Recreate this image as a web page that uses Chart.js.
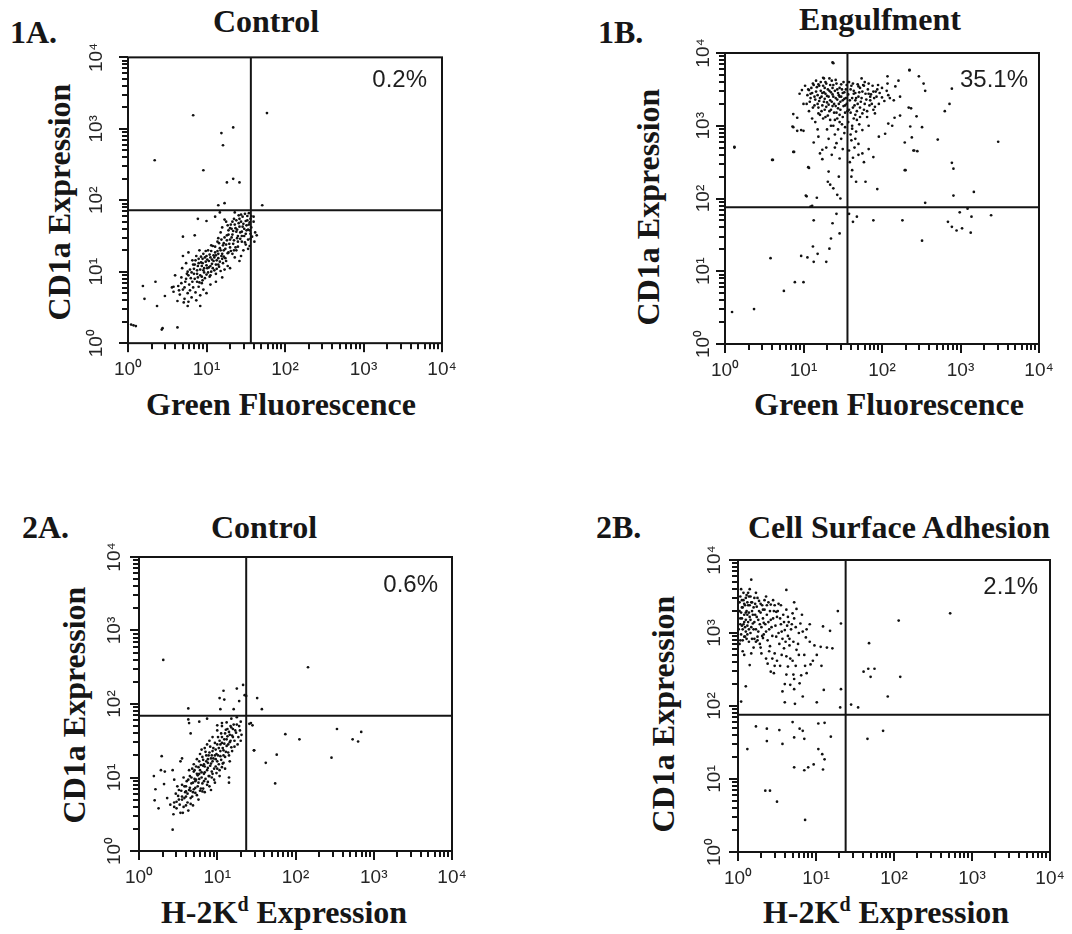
<!DOCTYPE html>
<html>
<head>
<meta charset="utf-8">
<script src="https://cdn.jsdelivr.net/npm/chart.js@4.4.0/dist/chart.umd.min.js"></script>
<style>
  body { margin: 0; background: #fff; width: 1072px; height: 934px; position: relative; overflow: hidden; }
  canvas { position: absolute; }
  .lab { position: absolute; white-space: nowrap; color: #161616; font-family: "Liberation Serif", serif; font-weight: bold; font-size: 32px; line-height: 32px; }
  .ctr { transform: translateX(-50%); }
  .rot { transform: translate(-50%, -50%) rotate(-90deg); }
  .pct { position: absolute; white-space: nowrap; color: #1e1e1e; font-family: "Liberation Sans", sans-serif; font-size: 24px; line-height: 24px; }
  sup { font-size: 20px; line-height: 0; vertical-align: 12px; }
</style>
</head>
<body>

<div class="lab" style="left:10px;top:16px">1A.</div>
<div class="lab ctr" style="left:266px;top:5px">Control</div>
<div class="lab" style="left:598px;top:16px">1B.</div>
<div class="lab ctr" style="left:880px;top:3px">Engulfment</div>
<div class="lab" style="left:22px;top:511px">2A.</div>
<div class="lab ctr" style="left:264px;top:511px">Control</div>
<div class="lab" style="left:596px;top:511px">2B.</div>
<div class="lab ctr" style="left:899px;top:511px">Cell Surface Adhesion</div>

<div class="lab rot" style="left:59px;top:202px">CD1a Expression</div>
<div class="lab rot" style="left:648px;top:207px">CD1a Expression</div>
<div class="lab rot" style="left:74px;top:705px">CD1a Expression</div>
<div class="lab rot" style="left:663px;top:714px">CD1a Expression</div>

<div class="lab ctr" style="left:281px;top:388px">Green Fluorescence</div>
<div class="lab ctr" style="left:889px;top:388px">Green Fluorescence</div>
<div class="lab ctr" style="left:284px;top:896px">H-2K<sup>d</sup> Expression</div>
<div class="lab ctr" style="left:886px;top:896px">H-2K<sup>d</sup> Expression</div>

<canvas id="c1A" width="382" height="349" style="left:78px;top:39px"></canvas>
<canvas id="c1B" width="382" height="350" style="left:675px;top:39px"></canvas>
<canvas id="c2A" width="381" height="353" style="left:89px;top:543px"></canvas>
<canvas id="c2B" width="380" height="351" style="left:688px;top:546px"></canvas>

<div class="pct" id="q1A" style="right:645px;top:67px"></div>
<div class="pct" id="q1B" style="right:44px;top:67px"></div>
<div class="pct" id="q2A" style="right:634px;top:572px"></div>
<div class="pct" id="q2B" style="right:34px;top:574px"></div>

<script>
// events as log10 intensities [x channel, CD1a]
const cells1A = [
  [0.04,0.26],[0.07,0.25],[0.10,0.24],[0.43,0.19],[0.44,0.21],[0.63,0.22],[0.19,0.80],[0.21,0.62],
  [0.35,0.86],[0.37,0.52],[0.47,0.66],[0.56,0.78],[0.58,0.79],[0.63,0.59],[0.76,0.52],[0.92,0.52],
  [0.60,0.95],[0.58,0.72],
  [0.64,0.80],[0.66,0.68],[0.68,0.92],[0.70,0.75],[0.72,0.62],[0.73,0.86],[0.75,0.97],[0.76,0.70],
  [0.78,0.82],[0.80,0.91],[0.81,0.64],[0.83,0.78],[0.84,0.97],[0.86,0.71],[0.88,0.86],[0.90,0.79],
  [0.92,0.67],[0.94,0.84],[0.96,0.75],[0.69,1.05],[0.74,1.12],[0.79,1.03],[0.82,1.16],[0.71,0.57],
  [0.77,0.58],[0.87,0.60],[0.70,1.22],[0.77,1.27],[1.00,0.70],[1.05,0.82],[1.12,0.86],[1.20,0.92],
  [0.85,1.10],[0.88,1.02],[0.90,1.18],[0.92,0.95],[0.94,1.08],[0.96,1.25],[0.97,0.99],[0.99,1.14],
  [1.01,1.05],[1.02,1.30],[1.04,0.93],[1.05,1.20],[1.07,1.11],[1.08,1.36],[1.10,1.02],[1.11,1.27],
  [1.13,1.16],[1.14,1.42],[1.16,1.07],[1.17,1.33],[1.19,1.22],[1.21,1.12],[1.22,1.30],[1.24,1.19],
  [1.25,1.38],[1.27,1.08],[1.28,1.27],[1.30,1.34],[0.87,1.22],[0.91,1.30],[0.95,0.88],[0.98,1.20],
  [1.00,0.96],[1.03,1.15],[1.06,1.00],[1.09,1.23],[1.12,0.97],[1.15,1.25],[1.18,1.01],[1.20,1.18],
  [1.23,1.03],[0.93,1.13],[0.89,0.92],[1.00,1.22],[1.06,1.29],[1.12,1.10],[1.03,1.06],[0.97,1.05],
  [1.09,1.15],[1.15,1.19],[1.30,1.05],[1.36,1.20],[1.42,1.15],[1.33,1.25],[1.38,1.30],[1.44,1.22],
  [1.20,1.62],[1.25,1.70],[1.28,1.58],[1.31,1.66],[1.33,1.52],[1.35,1.74],[1.37,1.61],[1.39,1.47],
  [1.41,1.68],[1.43,1.55],[1.45,1.42],[1.46,1.63],[1.48,1.50],[1.50,1.71],[1.51,1.58],[1.53,1.45],
  [1.54,1.66],[1.55,1.36],[1.56,1.53],[1.57,1.62],[1.52,1.78],[1.44,1.80],[1.36,1.83],[1.30,1.45],
  [1.26,1.51],[1.22,1.40],[1.18,1.55],[1.15,1.47],[1.34,1.39],[1.40,1.35],[1.47,1.30],[1.42,1.74],
  [1.49,1.41],[1.38,1.56],[1.32,1.60],[1.27,1.65],[1.23,1.73],[1.56,1.74],[1.58,1.49],[1.53,1.32],
  [1.60,1.70],[1.62,1.55],[1.61,1.42],[1.64,1.51],[1.60,1.77],
  [0.72,0.78],[0.74,0.90],[0.77,0.95],[0.79,0.74],[0.81,0.99],[0.82,0.86],[0.84,1.04],[0.85,0.90],
  [0.86,1.16],[0.88,0.97],[0.89,1.08],[0.91,0.85],[0.92,1.03],[0.93,1.21],[0.94,0.93],[0.95,1.12],
  [0.96,1.02],[0.98,0.91],[0.99,1.29],[1.00,1.09],[1.01,1.17],[1.02,0.99],[1.04,1.24],[1.05,1.08],
  [1.06,1.37],[1.07,1.17],[1.08,1.05],[1.10,1.20],[1.11,1.35],[1.12,1.23],[1.13,1.04],[1.14,1.29],
  [1.16,1.40],[1.17,1.14],[1.18,1.30],[1.19,1.45],[1.20,1.25],[1.21,1.37],[1.22,1.21],[1.23,1.48],
  [1.24,1.32],[1.26,1.44],[1.27,1.26],[1.28,1.52],[1.29,1.39],[1.30,1.61],[1.31,1.29],[1.32,1.48],
  [1.33,1.70],[1.34,1.57],[1.35,1.44],[1.36,1.66],[1.37,1.34],[1.38,1.72],[1.39,1.59],[1.40,1.50],
  [1.41,1.79],[1.42,1.63],[1.43,1.46],[1.44,1.70],[1.45,1.56],[1.46,1.77],[1.47,1.67],[1.48,1.60],
  [1.49,1.81],[1.50,1.53],[1.51,1.65],[1.52,1.72],[1.53,1.59],[1.54,1.82],[1.55,1.69],[1.56,1.46],
  [1.57,1.78],[1.55,1.58],[1.50,1.38],[1.45,1.50],[1.40,1.42],[1.35,1.30],[1.25,1.15],[1.15,1.10],
  [1.05,0.95],[0.95,1.18],[0.90,1.12],[0.83,1.10],[0.76,1.00],[0.68,0.84],[0.65,0.74],
  [0.70,1.49],[0.85,1.51],[0.89,1.74],[1.00,1.71],[1.11,1.77],[1.17,1.83],[1.23,1.96],[1.15,1.93],
  [1.71,1.93],[0.83,3.19],[1.34,3.02],[1.19,2.94],[1.21,2.77],[0.34,2.56],[0.96,2.42],[1.26,2.25],
  [1.34,2.30],[1.42,2.25],[1.77,3.22]
];

const cells1B = [
  [1.05,3.42],[1.08,3.33],[1.10,3.52],[1.12,3.25],[1.14,3.40],[1.16,3.47],[1.18,3.30],[1.20,3.55],
  [1.21,3.38],[1.23,3.20],[1.24,3.45],[1.26,3.33],[1.27,3.52],[1.29,3.26],[1.30,3.41],[1.31,3.14],
  [1.33,3.48],[1.34,3.35],[1.35,3.22],[1.37,3.43],[1.38,3.56],[1.39,3.30],[1.40,3.08],[1.41,3.38],
  [1.43,3.50],[1.44,3.24],[1.45,3.42],[1.46,3.15],[1.47,3.33],[1.48,3.57],[1.49,3.02],[1.50,3.45],
  [1.51,3.27],[1.52,3.37],[1.53,3.18],[1.54,3.50],[1.55,3.30],[1.28,3.60],[1.36,3.62],[1.22,3.48],
  [1.32,3.29],[1.42,3.18],[1.25,3.10],[1.19,3.17],[1.15,3.05],[1.35,3.00],[1.44,2.95],[1.52,2.90],
  [1.48,2.82],[1.40,2.88],[1.30,2.95],[1.27,3.37],[1.37,3.27],[1.46,3.40],[1.13,3.56],[1.09,3.44],
  [1.02,3.55],[1.57,3.43],[1.58,3.22],[1.57,3.05],
  [1.04,3.30],[1.06,3.50],[1.07,3.20],[1.09,3.38],[1.11,3.45],[1.12,3.58],[1.14,3.28],[1.15,3.36],
  [1.17,3.53],[1.18,3.42],[1.19,3.25],[1.20,3.34],[1.22,3.60],[1.23,3.40],[1.24,3.28],[1.25,3.55],
  [1.26,3.46],[1.27,3.22],[1.28,3.44],[1.29,3.58],[1.30,3.32],[1.31,3.50],[1.32,3.40],[1.33,3.20],
  [1.34,3.56],[1.35,3.46],[1.36,3.33],[1.37,3.52],[1.38,3.40],[1.39,3.18],[1.40,3.48],[1.41,3.27],
  [1.42,3.58],[1.43,3.36],[1.44,3.45],[1.45,3.30],[1.46,3.52],[1.47,3.22],[1.48,3.40],[1.49,3.50],
  [1.50,3.35],[1.51,3.60],[1.52,3.46],[1.53,3.28],[1.54,3.38],[1.55,3.56],[1.56,3.20],[1.21,3.15],
  [1.28,3.12],[1.34,3.08],[1.43,3.10],[1.50,3.12],[1.38,3.00],[1.46,3.05],[1.53,2.98],[1.32,2.82],
  [1.42,2.76],[1.50,2.68],[1.36,2.60],[1.46,2.55],[1.29,2.70],[1.18,2.95],[1.11,3.10],[1.16,3.62],
  [1.33,3.65],[1.41,3.63],[1.25,3.66],
  [1.60,3.50],[1.62,3.38],[1.63,3.58],[1.65,3.28],[1.66,3.45],[1.68,3.20],[1.70,3.40],[1.72,3.52],
  [1.73,3.33],[1.75,3.47],[1.77,3.22],[1.78,3.60],[1.80,3.36],[1.82,3.50],[1.84,3.28],[1.86,3.43],
  [1.88,3.55],[1.90,3.38],[1.92,3.47],[1.95,3.56],[1.60,3.18],[1.64,3.10],[1.69,3.57],[1.74,3.65],
  [1.58,3.60],[1.59,3.35],[1.61,3.55],[1.63,3.25],[1.64,3.48],[1.66,3.15],[1.67,3.38],[1.69,3.30],
  [1.71,3.46],[1.72,3.12],[1.74,3.38],[1.76,3.56],[1.78,3.30],[1.79,3.44],[1.81,3.20],[1.83,3.58],
  [1.85,3.40],[1.87,3.30],[1.89,3.47],[1.91,3.26],[1.93,3.40],[1.97,3.45],[2.00,3.52],[2.03,3.34],
  [2.06,3.48],[2.10,3.38],[1.62,3.00],[1.67,2.92],[1.71,3.02],[1.60,2.88],[1.65,2.70],[1.59,2.50],
  [1.70,2.60],[1.61,2.30],
  [1.38,3.86],[2.35,3.76],[2.07,3.68],[2.21,3.62],[2.17,3.54],[2.07,3.58],[1.26,3.65],[1.19,3.57],
  [0.98,3.49],[0.95,3.44],[1.07,3.49],[1.00,3.30],[0.87,3.16],[0.92,3.11],[0.87,2.98],[0.92,2.93],
  [1.00,2.93],[0.87,2.64],[0.61,2.53],[0.12,2.70],[1.07,2.42],[1.19,2.85],[1.13,2.77],[1.21,2.62],
  [1.24,2.54],[1.32,2.37],[1.31,2.23],[1.34,2.19],[1.38,2.14],[1.45,2.30],[1.43,2.05],[1.47,2.00],
  [1.62,2.39],[1.67,2.23],[1.79,2.23],[1.63,2.56],[1.77,2.50],[1.89,2.57],[1.75,2.62],[1.94,2.13],
  [2.30,2.39],[2.29,2.77],[2.40,2.66],[2.45,2.65],[2.36,2.99],[2.34,3.25],[1.04,2.03],[1.17,2.01],
  [1.11,1.90],[1.24,2.67],[1.40,2.70],[1.70,2.75],[1.83,2.68],[1.96,2.85],[2.04,2.89],[2.13,3.00],
  [2.16,3.11],[2.23,3.14],[2.08,3.03],[1.89,3.22],[1.91,3.17],[1.96,3.30],[2.00,3.39],[2.08,3.42],
  [2.15,3.35],[2.23,3.40],[1.70,3.54],[1.77,3.55],[1.83,3.44],[1.94,3.50],[1.85,3.35],[1.64,3.44],
  [1.66,3.35],[1.72,3.25],[1.75,3.17],[1.81,3.12],[1.68,3.08],[1.62,2.96],[1.75,2.94],[1.83,3.00],
  [1.61,2.80],[1.66,2.82],[1.58,2.66],
  [2.35,3.77],[2.47,3.68],[2.53,3.58],[2.55,3.48],[2.89,3.51],[2.86,3.30],[2.80,3.20],[2.51,2.98],
  [2.44,3.13],[2.71,2.81],[3.48,2.78],[2.89,2.49],[2.91,2.41],[2.91,2.04],[3.17,2.09],[2.55,1.94],
  [2.38,2.84],[2.41,2.66],[2.29,2.39],[2.37,3.24],
  [2.84,1.68],[2.89,1.61],[2.95,1.56],[3.02,1.59],[2.99,1.81],[3.14,1.75],[3.13,1.53],[3.39,1.77],
  [3.09,1.86],[2.51,1.42],[2.26,1.70],[1.89,1.70],[1.68,1.75],[1.63,1.68],[1.58,1.79],[1.37,1.66],
  [1.42,1.79],[1.46,1.52],[1.35,1.45],[1.33,1.31],[1.13,1.70],[1.12,1.34],[1.18,1.24],[0.97,1.21],
  [1.05,1.19],[1.13,1.13],[1.29,1.13],[0.58,1.18],[0.89,0.85],[1.00,0.85],[0.75,0.73],[0.37,0.48],
  [0.09,0.44],[1.09,1.89],
  [0.12,2.71],[0.60,2.53],[0.88,2.64],[1.06,2.43],[1.03,2.04],[1.37,3.87],[0.86,2.99],[0.97,2.94]
];

const cells2A = [
  [0.45,0.66],[0.48,0.58],[0.50,0.75],[0.52,0.63],[0.54,0.82],[0.55,0.70],[0.57,0.60],[0.58,0.88],
  [0.60,0.74],[0.61,0.95],[0.62,0.66],[0.64,0.83],[0.65,1.02],[0.66,0.72],[0.67,0.92],[0.69,0.80],
  [0.70,1.08],[0.71,0.98],[0.72,0.86],[0.73,1.15],[0.74,0.76],[0.75,1.03],[0.76,0.93],[0.77,1.22],
  [0.78,1.10],[0.79,0.85],[0.80,1.00],[0.81,1.28],[0.82,1.16],[0.83,0.95],[0.84,1.07],[0.85,1.35],
  [0.86,1.22],[0.87,0.90],[0.88,1.13],[0.89,1.30],[0.90,1.02],[0.91,1.42],[0.92,1.19],[0.93,1.08],
  [0.94,1.36],[0.95,1.26],[0.96,0.97],[0.97,1.47],[0.98,1.15],[0.99,1.32],[1.00,1.22],[1.01,1.55],
  [1.02,1.40],[1.03,1.10],[1.04,1.29],[1.05,1.60],[1.06,1.47],[1.07,1.19],[1.08,1.37],[1.09,1.52],
  [1.10,1.28],[1.11,1.65],[1.12,1.43],[1.13,1.56],[1.14,1.34],[1.15,1.62],[1.16,1.48],[1.17,1.70],
  [1.18,1.41],[1.19,1.57],[1.20,1.66],[1.22,1.50],[1.24,1.61],[1.25,1.72],[1.27,1.55],[1.29,1.64],
  [1.31,1.58],[0.68,1.12],[0.74,1.25],[0.80,1.38],[0.87,1.45],[0.63,0.55],[0.69,0.62],[0.76,0.70],
  [0.84,0.80],[0.90,0.88],[0.97,0.93],[1.03,1.02],[1.10,1.12],[1.16,1.22],[0.77,1.05],[0.83,1.18],
  [0.88,1.25],[0.93,1.30],[0.98,1.38],[1.04,1.45],[1.08,1.30],[0.72,0.95],[0.66,0.82],[0.59,0.80],
  [0.53,0.52],[0.44,0.50],[0.49,0.88],[0.57,1.00],[1.12,1.75],[1.06,1.70],[1.00,1.64],[0.94,1.55],
  [0.58,0.72],[0.60,0.88],[0.62,0.78],[0.63,0.97],[0.65,0.86],[0.66,0.64],[0.67,1.00],[0.68,0.74],
  [0.69,0.93],[0.70,0.84],[0.71,1.10],[0.72,0.79],[0.73,0.97],[0.74,1.05],[0.75,0.88],[0.76,1.14],
  [0.77,0.98],[0.78,0.82],[0.79,1.17],[0.80,1.07],[0.81,0.92],[0.82,1.24],[0.83,1.05],[0.84,1.15],
  [0.85,0.98],[0.86,1.30],[0.87,1.10],[0.88,1.20],[0.89,1.02],[0.90,1.34],[0.91,1.16],[0.92,1.26],
  [0.93,1.00],[0.94,1.22],[0.95,1.40],[0.96,1.12],[0.97,1.30],[0.98,1.25],[0.99,1.06],[1.00,1.45],
  [1.01,1.30],[1.02,1.18],[1.03,1.50],[1.04,1.36],[1.05,1.24],[1.06,1.55],[1.07,1.40],[1.08,1.20],
  [1.09,1.46],[1.10,1.60],[1.11,1.35],[1.12,1.52],[1.13,1.66],[1.14,1.45],[1.15,1.30],[1.16,1.58],
  [1.17,1.50],[1.18,1.68],[1.19,1.36],[1.20,1.55],[1.21,1.72],[1.22,1.42],[1.23,1.64],[1.26,1.45],
  [1.28,1.70],[1.30,1.50],[0.64,1.10],[0.70,1.18],[0.78,1.32],[0.84,1.40],[0.90,1.50],[0.82,0.85],
  [0.88,0.94],[0.94,1.05],[1.00,1.12],[1.06,1.14],[0.60,0.62],[0.55,0.90],[0.51,0.70],[0.47,0.78],
  [0.56,0.52],[1.25,1.82],[1.18,1.80],[1.30,1.76],
  [0.43,0.29],[0.21,0.84],[0.20,0.69],[0.19,1.02],[0.29,1.29],[0.28,1.10],[0.33,1.08],[0.32,0.91],
  [0.25,0.58],[0.36,0.72],[0.40,0.63],[0.45,0.60],[0.48,0.67],[0.55,1.26],[0.53,1.22],[0.43,1.10],
  [0.45,0.97],[0.51,0.83],[0.55,0.74],[0.60,0.81],[0.64,1.74],[0.66,1.60],[0.63,1.79],[0.77,1.76],
  [0.87,1.80],[1.00,1.71],[1.06,1.74],[1.15,0.93],[1.15,1.00],[1.47,1.37],[1.43,1.74],[0.92,0.83],
  [0.81,0.81],
  [0.31,2.60],[2.16,2.50],[1.08,2.18],[1.25,2.21],[1.03,2.08],[1.09,2.06],[1.37,2.11],[1.28,2.04],
  [1.51,2.08],[1.57,1.93],[0.63,1.94],[1.04,1.93],[1.21,1.93],[1.33,2.26],[1.35,2.12],
  [1.45,1.71],[1.41,1.73],[1.47,1.37],[1.62,1.20],[1.76,1.31],[1.74,0.92],[1.87,1.59],[2.05,1.52],
  [2.46,1.27],[2.53,1.66],[2.73,1.52],[2.80,1.49],[2.84,1.62]
];

const cells2B = [
  [0.03,3.20],[0.05,3.35],[0.06,3.05],[0.07,3.45],[0.08,3.15],[0.09,2.95],[0.10,3.28],[0.11,3.52],
  [0.12,3.10],[0.13,3.38],[0.14,2.88],[0.15,3.22],[0.16,3.00],[0.17,3.42],[0.18,3.30],[0.19,3.13],
  [0.20,2.80],[0.21,3.48],[0.22,3.25],[0.23,3.05],[0.24,3.36],[0.25,2.95],[0.26,3.18],[0.27,3.44],
  [0.28,2.85],[0.29,3.28],[0.30,3.08],[0.31,3.38],[0.32,3.20],[0.33,2.98],[0.34,3.32],[0.35,3.12],
  [0.37,3.25],[0.38,2.90],[0.39,3.42],[0.40,3.05],[0.42,3.18],[0.44,2.96],[0.46,3.30],[0.48,3.10],
  [0.50,3.22],[0.52,3.00],[0.55,3.12],[0.58,3.25],[0.60,3.04],[0.03,2.90],[0.04,3.60],[0.02,3.30],
  [0.06,2.75],[0.05,3.10],[0.08,3.40],[0.12,3.25],[0.14,3.50],[0.17,2.72],[0.21,2.92],[0.10,3.02],
  [0.15,3.60],[0.23,3.55],[0.36,3.50],[0.30,2.72],[0.41,2.82],[0.45,3.45],[0.52,3.40],[0.62,3.32],
  [0.65,3.15],[0.68,3.05],[0.72,3.20],[0.53,2.85],[0.47,2.72],[0.57,2.92],[0.64,2.96],[0.78,3.00],
  [0.75,3.33],
  [0.01,3.05],[0.02,3.42],[0.02,2.85],[0.03,3.50],[0.03,3.12],[0.04,3.28],[0.04,2.98],[0.05,3.45],
  [0.05,3.20],[0.06,3.35],[0.06,2.90],[0.07,3.12],[0.07,3.55],[0.08,3.25],[0.08,2.95],[0.09,3.38],
  [0.09,3.08],[0.10,3.48],[0.10,3.18],[0.11,2.92],[0.11,3.30],[0.12,3.42],[0.12,2.98],[0.13,3.15],
  [0.13,3.55],[0.14,3.28],[0.14,3.05],[0.15,3.38],[0.16,3.18],[0.16,3.50],[0.17,3.08],[0.18,3.42],
  [0.18,2.92],[0.19,3.25],[0.20,3.35],[0.20,3.05],[0.21,3.15],[0.22,3.40],[0.23,2.88],[0.24,3.22],
  [0.25,3.48],[0.26,3.02],[0.27,3.30],[0.28,3.12],[0.29,3.40],[0.31,2.96],[0.32,3.32],[0.33,3.14],
  [0.34,3.45],[0.36,3.02],[0.37,3.38],[0.39,3.15],[0.41,3.30],[0.43,3.08],[0.45,3.20],[0.47,3.38],
  [0.49,2.95],[0.51,3.30],[0.54,3.20],[0.56,3.02],[0.59,3.15],[0.61,2.88],[0.63,3.10],[0.66,2.92],
  [0.69,3.12],[0.71,2.88],[0.74,3.08],[0.77,2.85],[0.82,3.25],[0.88,3.05],[0.44,2.65],[0.38,2.58],
  [0.50,2.62],[0.56,2.70],[0.62,2.68],[0.70,2.62],[0.78,2.70],[0.92,2.88],[0.96,2.62],[0.88,2.45],
  [0.17,3.73],[0.62,3.59],[0.72,3.42],[1.28,3.30],[1.32,3.13],[0.92,3.12],[0.70,3.27],[0.64,3.22],
  [0.55,3.38],[0.42,3.39],[0.49,3.29],[0.80,3.13],[0.83,3.02],[0.87,2.94],[1.09,3.09],[1.18,3.03],
  [0.98,2.83],[1.06,2.81],[1.14,2.80],[1.21,2.79],[1.01,2.70],[0.85,2.70],[0.75,2.77],[0.66,2.83],
  [0.59,2.79],[0.67,2.65],[0.54,2.55],[0.64,2.54],[0.74,2.55],[0.86,2.55],[0.93,2.57],[1.07,2.55],
  [0.47,2.55],[0.42,2.47],[0.46,2.45],[0.62,2.43],[0.71,2.43],[0.81,2.42],[0.72,2.37],[0.60,2.30],
  [0.67,2.29],[0.79,2.31],[0.72,2.23],[0.57,2.20],[0.83,2.13],[0.60,2.05],[0.73,2.03],[1.01,2.05],
  [1.10,2.22],[1.32,2.23],[1.31,1.98],[0.40,2.75],[0.36,2.65],[0.29,2.80],[0.25,2.90],[0.32,2.93],
  [0.15,2.56],[0.08,2.70],[0.10,2.27],[0.04,2.06],
  [1.68,2.86],[1.61,2.47],[1.67,2.51],[1.75,2.51],[1.70,2.40],[1.45,2.02],[1.54,1.98],[1.92,2.13],
  [2.06,3.17],[2.72,3.27],[2.08,2.40],
  [0.23,1.72],[0.37,1.69],[0.53,1.67],[0.37,1.52],[0.57,1.48],[0.12,1.41],[0.72,1.57],[0.79,1.69],
  [0.85,1.55],[0.83,1.66],[0.70,1.78],[1.03,1.76],[1.11,1.77],[1.19,1.58],[1.03,1.41],[1.08,1.34],
  [1.11,1.27],[0.97,1.20],[0.90,1.16],[0.85,1.12],[0.72,1.16],[1.09,1.13],[0.35,0.84],[0.41,0.84],
  [0.50,0.69],[0.86,0.44],[1.66,1.55],[1.86,1.66]
];

// quadrant cuts [x, y] in decades
const gate1A = [1.565, 1.86];
const gate1B = [1.56, 1.88];
const gate2A = [1.37, 1.84];
const gate2B = [1.38, 1.88];

const quadrantUR = ['0.2%', '35.1%', '0.6%', '2.1%'];

const decades = [0, 1, 2, 3, 4];
const decadeLabels = ['10\u2070', '10\u00b9', '10\u00b2', '10\u00b3', '10\u2074'];
const minorSteps = [0.301, 0.477, 0.602, 0.699, 0.778, 0.845, 0.903, 0.954];

const tickValues = [];
decades.forEach(d => {
  tickValues.push(d);
  if (d < 4) minorSteps.forEach(m => tickValues.push(d + m));
});

const ink = '#141414';

// the plot area runs a little past the 10^0..10^4 box so the box and the
// outward tick marks can be drawn from the scales inside it
const frame = {
  id: 'frame',
  afterDraw(chart) {
    const ctx = chart.ctx;
    const sx = chart.scales.x;
    const sy = chart.scales.y;
    const l = sx.getPixelForValue(0);
    const r = sx.getPixelForValue(4);
    const t = sy.getPixelForValue(4);
    const b = sy.getPixelForValue(0);
    ctx.save();
    ctx.strokeStyle = ink;
    ctx.lineWidth = 2;
    ctx.strokeRect(l, t, r - l, b - t);
    ctx.fillStyle = ink;
    for (const v of tickValues) {
      const len = decades.includes(v) ? 9 : 6;
      const px = Math.round(sx.getPixelForValue(v));
      const py = Math.round(sy.getPixelForValue(v));
      ctx.fillRect(px - 1, b, 2, len);
      ctx.fillRect(l - len, py - 1, len, 2);
    }
    ctx.restore();
  }
};

function decadeAxis(isY, pad, lo, hi) {
  return {
    type: 'linear',
    min: lo,
    max: hi,
    afterBuildTicks: s => { s.ticks = tickValues.map(v => ({ value: v })); },
    afterFit: s => { if (isY) s.width = 38; else s.height = 33; },
    grid: { display: false, drawTicks: false },
    border: { display: false },
    ticks: {
      autoSkip: false,
      padding: pad,
      color: '#262626',
      font: { family: 'Liberation Sans', size: 19 },
      minRotation: isY ? 90 : 0,
      maxRotation: isY ? 90 : 0,
      crossAlign: isY ? 'center' : 'near',
      callback: v => {
        const i = decades.indexOf(v);
        return i >= 0 ? decadeLabels[i] : '';
      }
    }
  };
}

function dotPlot(id, cells, gate, yPad) {
  const canvas = document.getElementById(id);
  const kx = 4 / (canvas.width - 68);
  const ky = 4 / (canvas.height - 59);
  new Chart(canvas, {
    type: 'scatter',
    data: {
      datasets: [
        {
          data: cells.map(([x, y]) => ({ x, y })),
          pointRadius: 1.35,
          pointBackgroundColor: '#111',
          pointBorderWidth: 0,
          pointHoverRadius: 1.35
        },
        {
          data: [{ x: gate[0], y: 0 }, { x: gate[0], y: 4 }],
          showLine: true, borderColor: ink, borderWidth: 2, pointRadius: 0
        },
        {
          data: [{ x: 0, y: gate[1] }, { x: 4, y: gate[1] }],
          showLine: true, borderColor: ink, borderWidth: 2, pointRadius: 0
        }
      ]
    },
    options: {
      responsive: false,
      animation: false,
      devicePixelRatio: 1,
      layout: { autoPadding: false, padding: { left: 0, top: 12, right: 16, bottom: 0 } },
      plugins: { legend: { display: false }, tooltip: { enabled: false } },
      scales: {
        x: decadeAxis(false, 3, -12 * kx, 4 + 2 * kx),
        y: decadeAxis(true, yPad - 5, -12 * ky, 4 + 2 * ky)
      }
    },
    plugins: [frame]
  });
}

dotPlot('c1A', cells1A, gate1A, 10);
dotPlot('c1B', cells1B, gate1B, 0);
dotPlot('c2A', cells2A, gate2A, 3);
dotPlot('c2B', cells2B, gate2B, 2);

['q1A', 'q1B', 'q2A', 'q2B'].forEach((id, i) => {
  document.getElementById(id).textContent = quadrantUR[i];
});
</script>
</body>
</html>
